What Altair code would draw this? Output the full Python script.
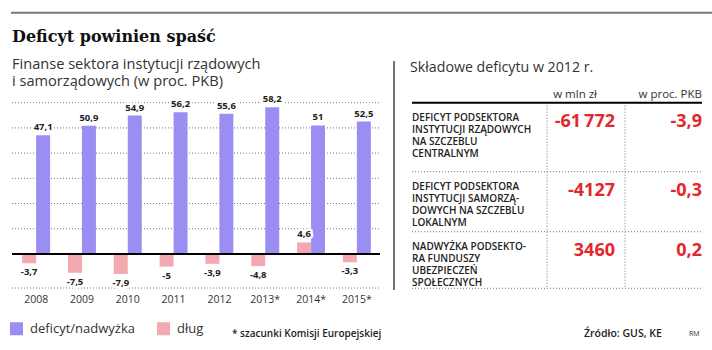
import altair as alt
import pandas as pd

# ---- bar chart data (per cent of GDP) ----
years = ["2008", "2009", "2010", "2011", "2012", "2013*", "2014*", "2015*"]
deficyt_nadwyzka = [47.1, 50.9, 54.9, 56.2, 55.6, 58.2, 51.0, 52.5]
dlug = [-3.7, -7.5, -7.9, -5.0, -3.9, -4.8, 4.6, -3.3]
series = ["deficyt/nadwyżka", "dług"]
grid_values = [10, 20, 30, 40, 50, 60]

# ---- table data: deficit components in 2012 ----
table_labels = [
    "DEFICYT PODSEKTORA\nINSTYTUCJI RZĄDOWYCH\nNA SZCZEBLU\nCENTRALNYM",
    "DEFICYT PODSEKTORA\nINSTYTUCJI SAMORZĄ-\nDOWYCH NA SZCZEBLU\nLOKALNYM",
    "NADWYŻKA PODSEKTO-\nRA FUNDUSZY\nUBEZPIECZEŃ\nSPOŁECZNYCH",
]
table_mln = [-61772, -4127, 3460]
table_pkb = [-3.9, -0.3, 0.2]

# ---- styling / layout ----
PURPLE = "#9b8ef2"
PINK = "#f3a9af"
RED = "#e4272c"
INK = "#222222"
GREY = "#333333"
DOTS = "#777777"
SANS = "Open Sans"
SERIF = "DejaVu Serif"

Y_DOMAIN = [-13.5, 60]
PLOT_LEFT, PLOT_RIGHT = 13, 380
PLOT_TOP, PLOT_BOTTOM = 102.7, 288
ROW_TOPS = [102.7, 171.7, 231.7]
TABLE_BOTTOM = 288.3
TABLE_LEFT, TABLE_RIGHT = 412, 702
COL_LINES = [547, 625]


def pl_num(v):
    return f"{v:g}".replace(".", ",")


def pl_int(v):
    s = str(abs(v))
    if len(s) > 4:
        s = s[:-3] + "\u2009" + s[-3:]
    return ("-" if v < 0 else "") + s


bars_df = pd.DataFrame(
    [{"year": y, "series": series[0], "value": v, "label": pl_num(v)}
     for y, v in zip(years, deficyt_nadwyzka)]
    + [{"year": y, "series": series[1], "value": v, "label": pl_num(v)}
       for y, v in zip(years, dlug)]
)

x_scale = alt.Scale(domain=years, range=[PLOT_LEFT, PLOT_RIGHT],
                    paddingInner=0.39, paddingOuter=0.2)
y_scale = alt.Scale(domain=Y_DOMAIN, range=[PLOT_BOTTOM, PLOT_TOP],
                    nice=False, zero=False)

base = alt.Chart(bars_df).encode(
    x=alt.X("year:N", scale=x_scale, axis=None),
    xOffset=alt.XOffset("series:N", scale=alt.Scale(domain=[series[1], series[0]])),
    y=alt.Y("value:Q", scale=y_scale, axis=None),
)

bars = base.mark_bar().encode(
    y2=alt.datum(0),
    color=alt.Color(
        "series:N",
        scale=alt.Scale(domain=series, range=[PURPLE, PINK]),
        legend=alt.Legend(
            title=None, orient="none", legendX=10, legendY=322,
            direction="horizontal", symbolType="square", symbolSize=169,
            symbolStrokeWidth=0, symbolOpacity=1, labelFont=SANS,
            labelFontSize=13, labelColor=GREY, labelOffset=7,
            columnPadding=22, padding=0,
        ),
    ),
)

label_style = dict(font=SANS, fontSize=9.5, fontWeight="bold", color=INK)
halo_style = dict(stroke="white", strokeWidth=5, strokeJoin="round")


def value_labels(cond, baseline, dy):
    sub = base.transform_filter(cond)
    halo = sub.mark_text(baseline=baseline, dy=dy, **label_style, **halo_style).encode(text="label:N")
    txt = sub.mark_text(baseline=baseline, dy=dy, **label_style).encode(text="label:N")
    return halo + txt


pos_labels = value_labels("datum.value > 0", "bottom", -3)
neg_labels = value_labels("datum.value < 0", "top", 4)

grid = alt.Chart(pd.DataFrame({"v": grid_values + [Y_DOMAIN[0]]})).mark_rule(
    color=DOTS, strokeWidth=1, strokeDash=[1, 2]
).encode(
    y=alt.Y("v:Q", scale=y_scale, axis=None),
    x=alt.value(PLOT_LEFT - 1), x2=alt.value(PLOT_RIGHT),
)

zero_line = alt.Chart(pd.DataFrame({"v": [0]})).mark_rule(
    color="black", strokeWidth=2
).encode(
    y=alt.Y("v:Q", scale=y_scale, axis=None),
    x=alt.value(PLOT_LEFT - 1), x2=alt.value(PLOT_RIGHT),
)

year_labels = alt.Chart(pd.DataFrame({"year": years})).mark_text(
    baseline="alphabetic", font=SANS, fontSize=10.5, color=GREY
).encode(
    x=alt.X("year:N", scale=x_scale, axis=None),
    y=alt.value(303.3),
    text="year:N",
)

left = alt.layer(grid, bars, zero_line, pos_labels, neg_labels, year_labels)

# ---- table ----
table_df = pd.DataFrame({
    "label": table_labels,
    "mln": [pl_int(v) for v in table_mln],
    "pkb": [pl_num(v) for v in table_pkb],
    "top": ROW_TOPS,
})
tbase = alt.Chart(table_df).encode(y=alt.Y("top:Q", scale=None, axis=None))

row_text = tbase.mark_text(
    align="left", baseline="alphabetic", dy=18, lineBreak="\n", lineHeight=12,
    font=SANS, fontSize=10, fontWeight=600, color=INK,
).encode(x=alt.value(TABLE_LEFT), text="label:N")

value_style = dict(align="right", baseline="alphabetic", dy=24, font=SANS,
                   fontSize=18, fontWeight="bold", color=RED)
mln_text = tbase.mark_text(**value_style).encode(x=alt.value(615), text="mln:N")
pkb_text = tbase.mark_text(**value_style).encode(x=alt.value(TABLE_RIGHT), text="pkb:N")

row_sep = alt.Chart(pd.DataFrame({"y": ROW_TOPS[1:] + [TABLE_BOTTOM]})).mark_rule(
    color=DOTS, strokeWidth=1, strokeDash=[1, 2]
).encode(y=alt.Y("y:Q", scale=None, axis=None),
         x=alt.value(TABLE_LEFT), x2=alt.value(TABLE_RIGHT))

col_sep = alt.Chart(pd.DataFrame({"x": COL_LINES})).mark_rule(
    color=DOTS, strokeWidth=1, strokeDash=[1, 2]
).encode(x=alt.X("x:Q", scale=None, axis=None),
         y=alt.value(ROW_TOPS[0] + 3), y2=alt.value(TABLE_BOTTOM))

head_line = alt.Chart(pd.DataFrame({"y": [ROW_TOPS[0]]})).mark_rule(
    color="black", strokeWidth=2
).encode(y=alt.Y("y:Q", scale=None, axis=None),
         x=alt.value(TABLE_LEFT), x2=alt.value(TABLE_RIGHT))

table = alt.layer(row_sep, col_sep, head_line, row_text, mln_text, pkb_text)


# ---- titles, notes and frame lines ----
def note(txt, x, y, align="left", **kw):
    return alt.Chart(pd.DataFrame({"t": [txt]})).mark_text(
        align=align, baseline="alphabetic", lineBreak="\n", **kw
    ).encode(x=alt.value(x), y=alt.value(y), text="t:N")


title = note("Deficyt powinien spaść", 12, 41.7, font=SERIF, fontSize=16,
             fontWeight="bold", color="#111111")
subtitle = note("Finanse sektora instytucji rządowych\ni samorządowych (w proc. PKB)",
                12, 68.5, font=SANS, fontSize=14.6, lineHeight=17.5, color=GREY)
table_title = note("Składowe deficytu w 2012 r.", 410, 72.3, font=SANS,
                   fontSize=14.2, color=GREY)
head_mln = note("w mln zł", 597, 98.3, align="right", font=SANS, fontSize=11.5, color=GREY)
head_pkb = note("w proc. PKB", TABLE_RIGHT, 98.3, align="right", font=SANS,
                fontSize=11.5, color=GREY)
footnote = note("* szacunki Komisji Europejskiej", 232, 336.5, font=SANS,
                fontSize=10, fontWeight=600, color=INK)
source = note("Źródło: GUS, KE", 584, 336.7, font=SANS, fontSize=10.5,
              fontWeight=600, color=INK)
author = note("RM", 689, 336, font=SANS, fontSize=7, color=GREY)

top_rule = alt.Chart(pd.DataFrame({"y": [12.7]})).mark_rule(
    color="#777777", strokeWidth=2
).encode(y=alt.Y("y:Q", scale=None, axis=None), x=alt.value(11), x2=alt.value(712))

divider = alt.Chart(pd.DataFrame({"x": [394]})).mark_rule(
    color="#444444", strokeWidth=1.5
).encode(x=alt.X("x:Q", scale=None, axis=None), y=alt.value(61), y2=alt.value(290))

decor = alt.layer(top_rule, divider, title, subtitle, table_title, head_mln,
                  head_pkb, footnote, source, author)

chart = alt.layer(left, table, decor).resolve_scale(
    x="independent", y="independent"
).properties(
    width=712, height=350, padding=0,
    autosize=alt.AutoSizeParams(type="none"),
    background="white",
).configure_view(stroke=None)

chart.save("out.html", embed_options={"renderer": "svg", "actions": False})
